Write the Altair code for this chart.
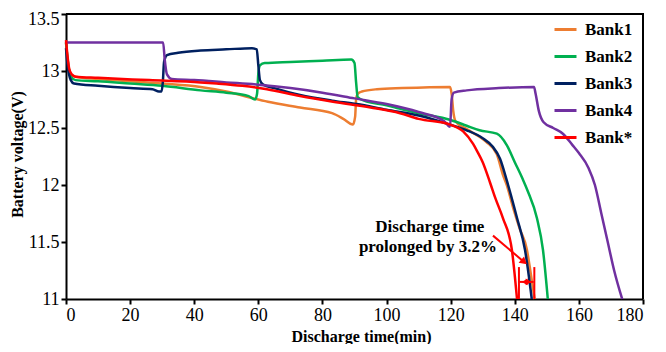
import altair as alt
import pandas as pd

# ---- data ----
banks = ["Bank1", "Bank2", "Bank3", "Bank4", "Bank*"]
colors = ["#ED7D31", "#00B050", "#002060", "#7030A0", "#FF0000"]

bank1_t = [0, 0.5, 1.5, 3, 10, 20, 30, 42, 50, 57, 63, 73, 83, 86.5, 89.5, 90.2, 90.5, 91, 92.3, 97, 105,
           119.8, 120.3, 120.8, 121.5, 125, 131, 134.4, 136.3, 137.5, 139.5, 141.5, 143.8, 145, 146.2]
bank1_v = [13.25, 13.1, 12.97, 12.95, 12.93, 12.91, 12.89, 12.86, 12.82, 12.77, 12.73, 12.68, 12.63, 12.58, 12.53,
           12.6, 12.75, 12.8, 12.82, 12.84, 12.85, 12.86, 12.8, 12.65, 12.56, 12.49, 12.38, 12.27, 12.09, 12.0,
           11.8, 11.62, 11.43, 11.22, 11.0]

bank2_t = [0, 0.5, 1.5, 3, 10, 20, 30, 42, 50, 57, 59, 59.6, 60, 60.5, 62, 70, 80, 89, 90, 90.5, 91, 93, 100,
           104, 110, 120, 125, 129, 134.4, 137.5, 140, 142.5, 144, 146.9, 148.8, 150.3]
bank2_v = [13.25, 13.1, 12.95, 12.92, 12.91, 12.89, 12.87, 12.83, 12.81, 12.78, 12.75, 12.8, 12.98, 13.05, 13.07,
           13.08, 13.09, 13.1, 13.07, 12.9, 12.77, 12.74, 12.7, 12.67, 12.63, 12.57, 12.52, 12.48, 12.45, 12.35,
           12.2, 12.05, 11.95, 11.71, 11.43, 11.0]

bank3_t = [0, 0.5, 1.5, 2.5, 10, 20, 27, 29, 29.8, 30.2, 30.6, 31.5, 35, 42, 50, 58, 59.5, 60, 60.5, 61.5, 65,
           73, 83, 90.7, 100, 110, 119.8, 125, 130, 133, 135.4, 137.5, 140.7, 143.2, 145.3]
bank3_v = [13.2, 13.05, 12.92, 12.89, 12.87, 12.85, 12.84, 12.82, 12.82, 12.9, 13.08, 13.14, 13.16, 13.18, 13.19,
           13.2, 13.19, 13.05, 12.92, 12.88, 12.85, 12.79, 12.74, 12.71, 12.66, 12.61, 12.53, 12.48, 12.41, 12.34,
           12.23, 12.04, 11.71, 11.43, 11.0]

bank4_t = [0, 30.3, 30.8, 31.5, 33, 40, 50, 60, 70, 80, 90, 100, 110, 118, 119.8, 120.3, 121, 125, 135, 146,
           146.5, 147.5, 149, 152, 155, 158, 160, 163, 165, 167, 169, 171, 173.5]
bank4_v = [13.25, 13.25, 13.1, 12.97, 12.93, 12.92, 12.9, 12.88, 12.85, 12.81, 12.76, 12.71, 12.64, 12.56, 12.51,
           12.75, 12.81, 12.83, 12.85, 12.86, 12.8, 12.65, 12.55, 12.5, 12.45, 12.35, 12.28, 12.15, 12.0, 11.75,
           11.5, 11.25, 11.0]

bankx_t = [0, 0.4, 1, 1.8, 3, 10, 26, 42, 47, 55, 62.7, 73, 83.3, 95, 104.2, 110, 119.8, 123.9, 127, 128.2, 130,
           132.3, 134, 136.3, 139.1, 140.7]
bankx_v = [13.27, 13.15, 13.02, 12.97, 12.95, 12.94, 12.92, 12.9, 12.89, 12.87, 12.84, 12.78, 12.73, 12.68, 12.63,
           12.58, 12.53, 12.47, 12.36, 12.3, 12.2, 12.02, 11.88, 11.71, 11.43, 11.0]

x_ticks = [0, 20, 40, 60, 80, 100, 120, 140, 160, 180]
y_ticks = [11, 11.5, 12, 12.5, 13, 13.5]

note_lines = ["Discharge time", "prolonged by 3.2%"]
note_t = [113.5, 112.9]
note_v = [11.628, 11.455]

arrow_t = [133.2, 142.9]
arrow_v = [11.556, 11.325]
rule_t = [141.3, 146.1]
rule_v = [11.0, 11.28]
span_t = [141.5, 145.9]
span_v = 11.15

# ---- build tables ----
series = [(bank1_t, bank1_v), (bank2_t, bank2_v), (bank3_t, bank3_v), (bank4_t, bank4_v), (bankx_t, bankx_v)]
rows = []
for name, (ts, vs) in zip(banks, series):
    for i, (t, v) in enumerate(zip(ts, vs)):
        rows.append({"t": t, "v": v, "bank": name, "idx": i})
df = pd.DataFrame(rows)

FONT = "Liberation Serif"
W, H = 577, 285
xscale = alt.Scale(domain=[0, 180], nice=False)
yscale = alt.Scale(domain=[11, 13.5], nice=False, zero=False)
cscale = alt.Scale(domain=banks, range=colors)

xaxis = alt.Axis(values=x_ticks, title="Discharge time(min)", titleX=295, titleY=37,
                 titleBaseline="middle", titleAnchor="start", titleAlign="center")
yaxis = alt.Axis(values=y_ticks, format="~g", title="Battery voltage(V)", titleX=-49, titleY=140,
                 titleAngle=-90, titleBaseline="middle", titleAlign="center", titleAnchor="start",
                 labelOffset={"condition": {"test": "datum.value == 13.5", "value": 5}, "value": 0})
legend = alt.Legend(title=None, orient="none", legendX=487, legendY=3,
                    symbolType="stroke", symbolSize=484, symbolStrokeWidth=3,
                    labelFont=FONT, labelFontSize=17, labelFontWeight="bold",
                    labelColor="black", labelOffset=7, rowPadding=6, padding=0)

X = alt.X("t:Q", scale=xscale, axis=xaxis)
Y = alt.Y("v:Q", scale=yscale, axis=yaxis)

layers = []
for name in banks:
    layers.append(
        alt.Chart(df).transform_filter(alt.datum.bank == name)
        .mark_line(strokeWidth=2.5, interpolate="monotone")
        .encode(x=X, y=Y, color=alt.Color("bank:N", scale=cscale, sort=banks, legend=legend),
                order="idx:Q")
    )

red = "#FF0000"
arrow_df = pd.DataFrame({"t": arrow_t, "v": arrow_v})
arrow_line = alt.Chart(arrow_df).mark_line(color=red, strokeWidth=2).encode(x=X, y=Y)
arrow_head = alt.Chart(pd.DataFrame({"t": [arrow_t[-1]], "v": [arrow_v[-1]]})).mark_point(
    shape="triangle-right", filled=True, color=red, size=70, angle=41, opacity=1).encode(x=X, y=Y)

rule_df = pd.DataFrame({"t": rule_t, "v": [rule_v[0]] * 2, "v1": [rule_v[1]] * 2})
rules = alt.Chart(rule_df).mark_rule(color=red, strokeWidth=2).encode(x=X, y=Y, y2="v1:Q")

span_df = pd.DataFrame({"t": span_t, "v": [span_v] * 2})
span_line = alt.Chart(span_df).mark_line(color=red, strokeWidth=2).encode(x=X, y=Y)
heads_df = pd.DataFrame({"t": [143.1, 144.3], "v": [span_v] * 2, "shape": ["triangle-left", "triangle-right"]})
span_heads = alt.Chart(heads_df).mark_point(filled=True, color=red, size=45, opacity=1).encode(
    x=X, y=Y, shape=alt.Shape("shape:N", scale=None, legend=None))

note_df = pd.DataFrame({"t": note_t, "v": note_v, "txt": note_lines})
note = alt.Chart(note_df).mark_text(font=FONT, fontSize=17, fontWeight="bold", color="black",
                                    align="center", baseline="middle").encode(x=X, y=Y, text="txt:N")

# frame (top and right border)
frame_top = alt.Chart(pd.DataFrame({"a": [0]})).mark_rule(color="black", strokeWidth=2).encode(
    x=alt.value(0), x2=alt.value(W + 1), y=alt.value(0))
frame_right = alt.Chart(pd.DataFrame({"a": [0]})).mark_rule(color="black", strokeWidth=2).encode(
    x=alt.value(W), y=alt.value(0), y2=alt.value(H))

chart = alt.layer(*layers, arrow_line, arrow_head, rules, span_line, span_heads, note,
                  frame_top, frame_right).properties(
    width=W, height=H,
    background="white",
    autosize=alt.AutoSizeParams(type="none"),
    padding={"left": 58, "top": 6, "right": 15, "bottom": 45},
).configure_view(stroke=None).configure_axis(
    grid=False, domainColor="black", domainWidth=2, tickColor="black", tickWidth=2, tickSize=5,
    labelFont=FONT, labelFontSize=18, labelColor="black", labelPadding=2,
    titleFont=FONT, titleFontSize=16, titleFontWeight="bold", titleColor="black",
)

chart.save("out.html", embed_options={"renderer": "svg", "actions": False})
